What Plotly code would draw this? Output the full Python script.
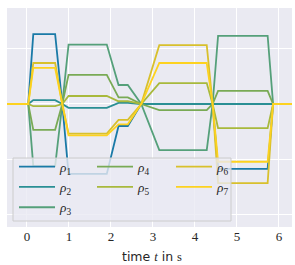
import plotly.graph_objects as go

# key times (s) where the trajectories change slope
t_keys = [-0.5, 0.03, 0.15, 0.67, 0.84, 0.99, 1.90, 2.18, 2.40, 2.72, 3.15, 4.28, 4.42, 4.55, 5.73, 5.86, 6.5]

# values at those times
rho1 = [0, 0, 1.27, 1.27, 0, -1.27, -1.27, -0.40, -0.40, 0, 0.00, 0.00, 0, -1.18, -1.18, 0, 0]
rho2 = [0, 0, 0.07, 0.07, 0, -0.07, -0.07, 0.02, 0.02, 0, 0.00, 0.00, 0, 0.00, 0.00, 0, 0]
rho3 = [0, 0, -1.13, -1.13, 0, 1.08, 1.08, 0.345, 0.345, 0, -0.84, -0.84, 0, 1.24, 1.24, 0, 0]
rho4 = [0, 0, -0.47, -0.47, 0, 0.53, 0.53, 0.12, 0.12, 0, -0.11, -0.11, 0, 0.24, 0.24, 0, 0]
rho5 = [0, 0, -0.04, -0.04, 0, 0.145, 0.145, 0.05, 0.05, 0, 0.38, 0.38, 0, -0.44, -0.44, 0, 0]
rho6 = [0, 0, 0.745, 0.745, 0, -0.54, -0.54, -0.29, -0.29, 0, 1.07, 1.07, 0, -1.44, -1.44, 0, 0]
rho7 = [0, 0, 0.655, 0.655, 0, -0.57, -0.57, -0.37, -0.37, 0, 0.745, 0.745, 0, -1.05, -1.05, 0, 0]

series = [rho1, rho2, rho3, rho4, rho5, rho6, rho7]
names = ["1", "2", "3", "4", "5", "6", "7"]
colors = ["#1a7aa7", "#2a8f94", "#55a07a", "#79aa55", "#a8b93c", "#d8c02c", "#fdd21f"]
legend_ids = ["legend", "legend", "legend", "legend2", "legend2", "legend3", "legend3"]

x_ticks = [0, 1, 2, 3, 4, 5, 6]
y_ticks = [-2, -1, 0, 1]

SERIF = "Liberation Serif"

fig = go.Figure()
for s, n, c, lg in zip(series, names, colors, legend_ids):
    fig.add_trace(go.Scatter(
        x=t_keys, y=s, mode="lines",
        line=dict(color=c, width=1.8),
        name=f"<i>ρ</i><sub>{n}</sub>",
        legend=lg,
    ))

W, H = 295, 265
ml, mr, mt, mb = 7, 3, 8, 38
pw, ph = W - ml - mr, H - mt - mb

def px(xp):
    return (xp - ml) / pw

def py(yp):
    return (H - mb - yp) / ph

legend_font = dict(family=SERIF, size=13.3, color="#262626")
common = dict(bgcolor="rgba(0,0,0,0)", borderwidth=0, font=legend_font,
              xanchor="left", yanchor="top", itemwidth=36, tracegroupgap=0)

fig.update_layout(
    width=W, height=H,
    margin=dict(l=ml, r=mr, t=mt, b=mb, autoexpand=False),
    paper_bgcolor="white",
    plot_bgcolor="#eaeaf2",
    showlegend=True,
    legend=dict(x=px(14), y=py(151.5), **common),
    legend2=dict(x=px(92), y=py(151.5), **common),
    legend3=dict(x=px(171), y=py(151.5), **common),
    shapes=[dict(type="rect", xref="paper", yref="paper",
                 x0=px(13), x1=px(231), y0=py(221), y1=py(158),
                 fillcolor="rgba(234,234,242,0.8)",
                 line=dict(color="rgba(204,204,204,1)", width=1),
                 layer="above")],
    annotations=[dict(
        xref="paper", yref="paper", x=px(152), y=py(256),
        xanchor="center", yanchor="middle", showarrow=False,
        text=f'time <span style="font-family:{SERIF}"><i>t</i></span> in '
             f'<span style="font-family:{SERIF}">s</span>',
        font=dict(family="DejaVu Sans", size=12.5, color="#262626"))],
    xaxis=dict(
        range=[-0.476, 6.31], tickvals=x_ticks, ticktext=[str(v) for v in x_ticks],
        showgrid=True, gridcolor="white", gridwidth=1, zeroline=False,
        showline=False, ticks="", automargin=False,
        tickfont=dict(family=SERIF, size=13, color="#262626"),
    ),
    yaxis=dict(
        range=[-2.236, 1.745], tickvals=y_ticks, showticklabels=False,
        showgrid=True, gridcolor="white", gridwidth=1, zeroline=False,
        showline=False, ticks="", automargin=False,
    ),
)

fig.write_html("out.html", config={"displayModeBar": False},
               post_script="document.body.style.margin='0';")
